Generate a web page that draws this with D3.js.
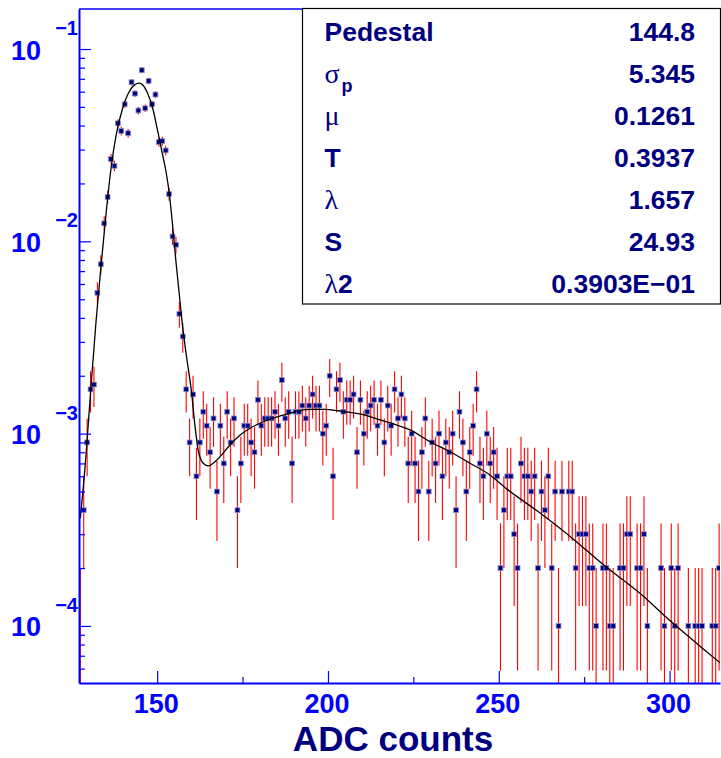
<!DOCTYPE html>
<html>
<head>
<meta charset="utf-8">
<script src="https://cdn.jsdelivr.net/npm/d3@7"></script>
<style>
  body { margin: 0; background: #fff; }
  svg { display: block; font-family: "Liberation Sans", Arial, Helvetica, sans-serif; }
</style>
</head>
<body>
<div id="chart"></div>
<script>
// ADC spectrum: entries per 1-count bin, first bin is [127,128)
let firstBin = 127;
let entries = [
  1, 4, 9, 17, 18, 54, 76, 124, 170, 268,
  247, 411, 375, 516, 365, 672, 587, 479, 776, 492,
  683, 516, 580, 328, 332, 297, 176, 106, 96, 42,
  32, 17, 9, 16, 6, 9, 13, 11, 8, 12,
  5, 11, 7, 13, 9, 12, 4, 7, 11, 11,
  9, 8, 15, 11, 12, 12, 12, 13, 11, 19,
  12, 13, 7, 13, 13, 14, 12, 14, 16, 14,
  14, 10, 11, 20, 6, 17, 19, 13, 15, 15,
  16, 8, 15, 10, 13, 14, 15, 11, 15, 9,
  14, 11, 17, 12, 16, 12, 7, 10, 7, 5,
  8, 12, 5, 9, 7, 10, 6, 9, 8, 10,
  4, 13, 9, 5, 8, 11, 17, 7, 6, 10,
  7, 8, 6, 2, 4, 6, 6, 3, 2, 7,
  6, 6, 5, 6, 2, 5, 4, 6, 2, 5,
  1, 5, 0, 5, 5, 2, 3, 3, 3, 2,
  2, 1, 0, 2, 2, 1, 1, 0, 2, 2,
  3, 3, 0, 2, 2, 3, 1, 0, 0, 0,
  2, 1, 0, 2, 1, 2, 0, 0, 1, 0,
  1, 1, 1, 0, 0, 1, 1, 2
];
let norm = 1e-4; // histogram scaled to unit area

// fitted response function, sampled
let fitAdc = [127.5, 128.7, 130.6, 132.1, 133.6, 135.0, 136.5, 138.0, 139.9, 141.8,
  143.8, 144.8, 145.8, 147.2, 148.7, 150.2, 151.6, 152.6, 153.6, 154.6,
  155.5, 156.5, 157.5, 158.6, 160.1, 161.1, 162.0, 163.5, 165.0, 166.4,
  168.4, 171.3, 174.3, 177.2, 180.1, 183.0, 186.0, 188.9, 191.3, 195.2,
  199.1, 203.0, 207.0, 210.8, 214.7, 219.0, 224.0, 229.9, 235.7, 241.6,
  247.4, 252.5, 261.6, 271.4, 281.1, 290.9, 300.6, 310.4, 315.1];
let fitValue = [3.63e-4, 6.10e-4, 1.722e-3, 3.82e-3, 7.53e-3, 0.01371, 0.02399, 0.03573, 0.0492, 0.05998,
  0.06577, 0.06653, 0.06501, 0.05888, 0.0492, 0.03715, 0.02812, 0.02301, 0.01742, 0.0117,
  7.83e-3, 5.26e-3, 3.53e-3, 2.51e-3, 1.622e-3, 1.086e-3, 8.22e-4, 7.02e-4, 6.79e-4, 7.02e-4,
  7.59e-4, 8.73e-4, 9.84e-4, 1.067e-3, 1.132e-3, 1.189e-3, 1.236e-3, 1.276e-3, 1.315e-3, 1.337e-3,
  1.337e-3, 1.315e-3, 1.285e-3, 1.25e-3, 1.186e-3, 1.127e-3, 1.045e-3, 9.08e-4, 8.05e-4, 7.02e-4,
  6.10e-4, 5.13e-4, 3.92e-4, 2.87e-4, 2.05e-4, 1.50e-4, 1.047e-4, 7.46e-5, 6.36e-5];

let xMajor = [150, 200, 250, 300];
let xMinor = [175, 225, 275];
let yDecades = [-1, -2, -3, -4];

let statValues = ['144.8', '5.345', '0.1261', '0.3937', '1.657', '24.93', '0.3903E\u221201'];

let width = 721;
let height = 758;
let blue = '#0000ff';
let navy = '#00007f';

let svg = d3.select('#chart')
  .append('svg')
  .attr('width', width)
  .attr('height', height);

let x = d3.scaleLinear().domain([127.12, 314.76]).range([79, 720]);
let y = d3.scaleLog().domain([5.05e-5, 0.1615]).range([683, 9]);

svg.append('clipPath').attr('id', 'frame')
  .append('rect')
  .attr('x', 79).attr('y', 9)
  .attr('width', 641).attr('height', 674);

let bins = entries.map(function(n, i) {
  return { adc: firstBin + i + 0.5, n: n };
}).filter(function(d) { return d.n > 0; });

let plot = svg.append('g').attr('clip-path', 'url(#frame)');

// poisson error bars
plot.selectAll('line.err')
  .data(bins)
  .enter()
  .append('line')
  .attr('class', 'err')
  .attr('x1', function(d) { return x(d.adc); })
  .attr('x2', function(d) { return x(d.adc); })
  .attr('y1', function(d) { return y((d.n + Math.sqrt(d.n)) * norm); })
  .attr('y2', function(d) {
    let lo = (d.n - Math.sqrt(d.n)) * norm;
    return lo > 0 ? y(lo) : 700;
  })
  .attr('stroke', '#ff0000')
  .attr('stroke-width', 1.1);

// markers (the one sitting on the left frame edge is hidden by the axis)
plot.selectAll('rect.pt')
  .data(bins.filter(function(d) { return x(d.adc) > 82; }))
  .enter()
  .append('rect')
  .attr('class', 'pt')
  .attr('x', function(d) { return x(d.adc) - 2.4; })
  .attr('y', function(d) { return y(d.n * norm) - 2.4; })
  .attr('width', 4.8)
  .attr('height', 4.8)
  .attr('fill', '#000080')
  .attr('stroke', '#8c8cc8')
  .attr('stroke-width', 0.8);

// fit curve
let line = d3.line()
  .x(function(d) { return x(d[0]); })
  .y(function(d) { return y(d[1]); })
  .curve(d3.curveMonotoneX);

plot.append('path')
  .datum(d3.zip(fitAdc, fitValue))
  .attr('d', line)
  .attr('fill', 'none')
  .attr('stroke', '#000')
  .attr('stroke-width', 1.3);

// axes
let xAxisMajor = d3.axisBottom(x).tickValues(xMajor).tickSize(-12).tickSizeOuter(0).tickFormat('');
let xAxisMinor = d3.axisBottom(x).tickValues(xMinor).tickSize(-6).tickSizeOuter(0).tickFormat('');
let gx = svg.append('g').attr('transform', 'translate(0,683)');
gx.call(xAxisMajor);
gx.append('g').call(xAxisMinor);

let yMinor = y.ticks().filter(function(v) {
  return Math.abs(Math.log10(v) - Math.round(Math.log10(v))) > 1e-6;
});
let yMajor = yDecades.map(function(e) { return Math.pow(10, e); });
let gy = svg.append('g').attr('transform', 'translate(79,0)');
gy.call(d3.axisLeft(y).tickValues(yMajor).tickSize(-12).tickSizeOuter(0).tickFormat(''));
gy.append('g').call(d3.axisLeft(y).tickValues(yMinor).tickSize(-6).tickSizeOuter(0).tickFormat(''));

svg.selectAll('.domain').attr('stroke', blue).attr('stroke-width', 2);
svg.selectAll('.tick line').attr('stroke', blue).attr('stroke-width', 1.2);
svg.selectAll('g g .domain').remove();

// top edge of the frame
svg.append('line')
  .attr('x1', 79).attr('x2', 720)
  .attr('y1', 9).attr('y2', 9)
  .attr('stroke', blue)
  .attr('stroke-width', 1.5);

// tick labels
svg.selectAll('text.xl')
  .data(xMajor)
  .enter()
  .append('text')
  .attr('class', 'xl')
  .attr('x', function(d) { return x(d) - 1; })
  .attr('y', 713.3)
  .attr('text-anchor', 'middle')
  .attr('font-size', 27)
  .attr('font-weight', 'bold')
  .attr('fill', blue)
  .text(function(d) { return d; });

let yl = svg.selectAll('g.yl')
  .data(yDecades)
  .enter()
  .append('g')
  .attr('class', 'yl');

yl.append('text')
  .attr('x', 41)
  .attr('y', function(d) { return y(Math.pow(10, d)) + 10.5; })
  .attr('text-anchor', 'end')
  .attr('font-size', 27)
  .attr('font-weight', 'bold')
  .attr('fill', blue)
  .text('10');

yl.append('text')
  .attr('x', 78)
  .attr('y', function(d) { return y(Math.pow(10, d)) - 14; })
  .attr('text-anchor', 'end')
  .attr('font-size', 20)
  .attr('font-weight', 'bold')
  .attr('fill', blue)
  .text(function(d) { return '\u2212' + (-d); });

svg.append('text')
  .attr('x', 393)
  .attr('y', 751.3)
  .attr('text-anchor', 'middle')
  .attr('font-size', 35)
  .attr('font-weight', 'bold')
  .attr('fill', navy)
  .text('ADC counts');

// fit parameter box
svg.append('rect')
  .attr('x', 302.5).attr('y', 8.5)
  .attr('width', 418).attr('height', 295.5)
  .attr('fill', '#fff')
  .attr('stroke', '#000')
  .attr('stroke-width', 1.2);

let serif = '"Liberation Serif", "DejaVu Serif", serif';
let statLabels = [
  [['Pedestal', 'b']],
  [['\u03c3', 'g'], ['p', 'sub']],
  [['\u03bc', 'g']],
  [['T', 'b']],
  [['\u03bb', 'g']],
  [['S', 'b']],
  [['\u03bb', 'g'], ['2', 'b']]
];

statLabels.forEach(function(parts, i) {
  let base = 40.7 + i * 42.1;
  let t = svg.append('text')
    .attr('x', 324.5)
    .attr('y', base)
    .attr('fill', navy);
  parts.forEach(function(p) {
    let s = t.append('tspan').text(p[0]);
    if (p[1] === 'b') {
      s.attr('font-size', 26.5).attr('font-weight', 'bold');
    } else if (p[1] === 'g') {
      s.attr('font-size', 28).attr('font-family', serif);
    } else {
      s.attr('font-size', 18).attr('font-weight', 'bold').attr('dy', 9).attr('dx', 2);
    }
  });
  svg.append('text')
    .attr('x', 695)
    .attr('y', base)
    .attr('text-anchor', 'end')
    .attr('font-size', 26.5)
    .attr('font-weight', 'bold')
    .attr('fill', navy)
    .text(statValues[i]);
});
</script>
</body>
</html>
